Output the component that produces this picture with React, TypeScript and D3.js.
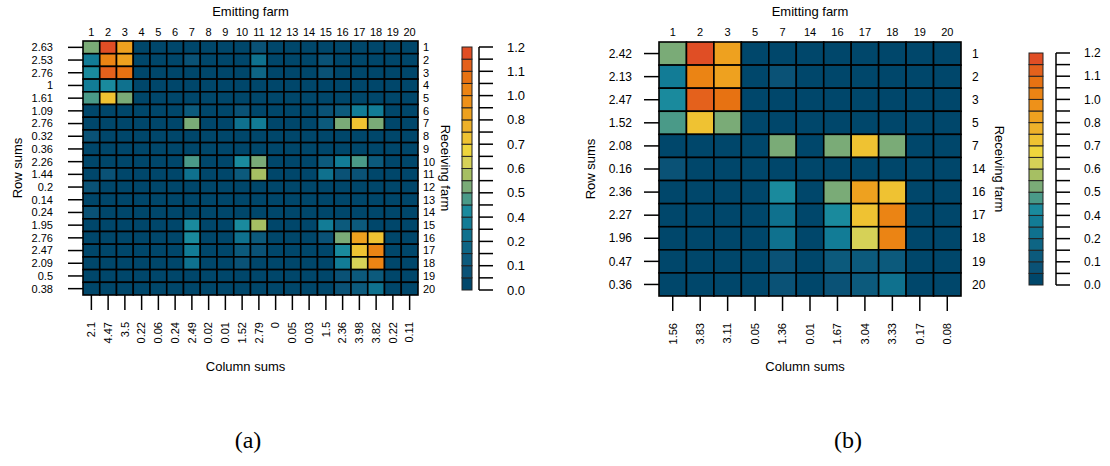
import React from 'react';
import * as d3 from 'd3';

// farm ids, row sums and column sums for panel (a)
const farmsA = ['1', '2', '3', '4', '5', '6', '7', '8', '9', '10', '11', '12', '13', '14', '15', '16', '17', '18', '19', '20'];
const rowSumsA = ['2.63', '2.53', '2.76', '1', '1.61', '1.09', '2.76', '0.32', '0.36', '2.26', '1.44', '0.2', '0.14', '0.24', '1.95', '2.76', '2.47', '2.09', '0.5', '0.38'];
const colSumsA = ['2.1', '4.47', '3.5', '0.22', '0.06', '0.24', '2.49', '0.02', '0.01', '1.52', '2.79', '0', '0.05', '0.03', '1.5', '2.36', '3.98', '3.82', '0.22', '0.11'];

// rows = receiving farm, cols = emitting farm
const valuesA = [
  [0.52, 1.17, 0.85, 0, 0, 0, 0, 0, 0, 0, 0.08, 0, 0, 0, 0, 0, 0, 0, 0, 0],
  [0.35, 1.02, 0.85, 0, 0, 0, 0.08, 0, 0, 0, 0.22, 0, 0, 0, 0.08, 0, 0, 0, 0, 0],
  [0.42, 1.12, 1.07, 0, 0, 0, 0, 0, 0, 0, 0.18, 0, 0, 0, 0.08, 0, 0, 0, 0, 0],
  [0.35, 0.42, 0.25, 0, 0, 0, 0, 0, 0, 0, 0, 0, 0, 0, 0, 0, 0, 0, 0, 0],
  [0.47, 0.72, 0.52, 0, 0, 0, 0, 0, 0, 0, 0, 0, 0, 0, 0, 0, 0, 0, 0, 0],
  [0, 0, 0, 0, 0, 0, 0.13, 0, 0, 0.08, 0, 0, 0, 0, 0.08, 0.13, 0.35, 0.35, 0, 0],
  [0, 0, 0, 0, 0, 0, 0.52, 0, 0, 0.25, 0.35, 0, 0, 0, 0.13, 0.52, 0.72, 0.52, 0, 0],
  [0.08, 0, 0, 0, 0, 0, 0, 0, 0, 0, 0, 0, 0, 0, 0, 0, 0, 0, 0, 0],
  [0, 0, 0, 0, 0, 0, 0, 0, 0, 0, 0, 0, 0, 0, 0, 0, 0, 0, 0, 0],
  [0, 0, 0, 0, 0, 0, 0.47, 0, 0, 0.42, 0.52, 0, 0, 0, 0.13, 0.35, 0.47, 0.13, 0, 0],
  [0, 0.08, 0, 0, 0, 0, 0.25, 0, 0, 0.13, 0.57, 0, 0, 0, 0.25, 0.08, 0.08, 0, 0, 0],
  [0.08, 0, 0, 0, 0, 0, 0, 0, 0, 0, 0, 0, 0, 0, 0, 0, 0, 0, 0, 0],
  [0, 0, 0, 0, 0, 0, 0, 0, 0, 0, 0, 0, 0, 0, 0, 0, 0, 0, 0, 0],
  [0.08, 0, 0, 0, 0, 0, 0, 0, 0, 0, 0, 0, 0, 0, 0, 0, 0, 0, 0, 0],
  [0, 0, 0, 0, 0, 0, 0.42, 0, 0, 0.42, 0.57, 0, 0, 0, 0.35, 0.13, 0.13, 0, 0, 0],
  [0, 0, 0, 0, 0, 0, 0.42, 0, 0, 0.25, 0.13, 0, 0, 0, 0.08, 0.52, 0.85, 0.72, 0, 0],
  [0, 0, 0, 0, 0, 0, 0.35, 0, 0, 0.13, 0.08, 0, 0, 0, 0, 0.42, 0.72, 1.02, 0, 0],
  [0, 0, 0, 0, 0, 0, 0.25, 0, 0, 0.08, 0, 0, 0, 0, 0, 0.35, 0.62, 1.02, 0, 0],
  [0, 0, 0, 0, 0, 0, 0, 0, 0, 0, 0, 0, 0, 0, 0, 0.08, 0.13, 0.13, 0, 0],
  [0, 0, 0, 0, 0, 0, 0, 0, 0, 0, 0, 0, 0, 0, 0, 0.08, 0.13, 0.25, 0, 0],
];

// panel (b)
const farmsB = ['1', '2', '3', '5', '7', '14', '16', '17', '18', '19', '20'];
const rowSumsB = ['2.42', '2.13', '2.47', '1.52', '2.08', '0.16', '2.36', '2.27', '1.96', '0.47', '0.36'];
const colSumsB = ['1.56', '3.83', '3.11', '0.05', '1.36', '0.01', '1.67', '3.04', '3.33', '0.17', '0.08'];

const valuesB = [
  [0.52, 1.17, 0.85, 0, 0, 0, 0, 0, 0, 0, 0],
  [0.35, 1.02, 0.85, 0, 0.08, 0, 0, 0, 0, 0, 0],
  [0.42, 1.12, 1.07, 0, 0, 0, 0, 0, 0, 0, 0],
  [0.47, 0.72, 0.52, 0, 0, 0, 0, 0, 0, 0, 0],
  [0, 0, 0, 0, 0.52, 0, 0.52, 0.72, 0.52, 0, 0],
  [0.08, 0, 0, 0, 0, 0, 0, 0, 0, 0, 0],
  [0, 0, 0, 0, 0.42, 0, 0.52, 0.85, 0.72, 0, 0],
  [0, 0, 0, 0, 0.25, 0, 0.42, 0.72, 1.02, 0, 0],
  [0, 0, 0, 0, 0.25, 0, 0.35, 0.62, 1.02, 0, 0],
  [0, 0, 0, 0, 0.08, 0, 0.13, 0.13, 0.13, 0, 0],
  [0, 0, 0, 0, 0.08, 0, 0.08, 0.13, 0.25, 0, 0],
];

// colour key
const breaks = [0, 0.05, 0.1, 0.15, 0.2, 0.3, 0.4, 0.45, 0.5, 0.55, 0.6, 0.65, 0.7, 0.75, 0.8, 0.9, 1.0, 1.05, 1.1, 1.15, 1.2];
const breakLabels = ['0.0', '', '0.1', '', '0.2', '', '0.4', '', '0.5', '', '0.6', '', '0.7', '', '0.8', '', '1.0', '', '1.1', '', '1.2'];
const palette = [
  '#00476b', '#0a5276', '#0c5a7c', '#0e6584', '#0f718e', '#127c96', '#1a8a9d', '#4a9a88', '#7aab77', '#a6bf63',
  '#d6d157', '#eed53c', '#efc232', '#eeb12a', '#eea11f', '#ee9119', '#eb8414', '#e77212', '#e4611c', '#e04e25',
];

const font = '"Liberation Sans", Arial, sans-serif';

type PanelProps = {
  farms: string[];
  rowSums: string[];
  colSums: string[];
  values: number[][];
  box: { x0: number; x1: number; y0: number; y1: number };
  rowLabelX: number;
  rightLabelX: number;
  rowTitleX: number;
  rightTitleX: number;
  legend: { x: number; w: number; y0: number; y1: number; axisX: number; fs: number };
  labelFs: number;
  caption: string;
  captionX: number;
};

function Panel(p: PanelProps) {
  const { x0, x1, y0, y1 } = p.box;
  const x = d3.scaleBand().domain(p.farms).range([x0, x1]);
  const y = d3.scaleBand().domain(p.farms).range([y0, y1]);
  const color = d3.scaleThreshold<number, string>().domain(breaks.slice(1, -1)).range(palette);
  const cx = (x0 + x1) / 2;
  const cy = (y0 + y1) / 2;

  const lg = p.legend;
  const ly = d3.scaleLinear().domain([0, breaks.length - 1]).range([lg.y1, lg.y0]);

  return (
    <g fontFamily={font} fill="#000">
      <text x={cx} y={11} fontSize={13} textAnchor="middle" dy="0.35em">Emitting farm</text>
      {p.farms.map(f => (
        <text key={'t' + f} x={x(f)! + x.bandwidth() / 2} y={36} fontSize={11} textAnchor="middle">{f}</text>
      ))}

      {p.values.map((row, i) =>
        row.map((v, j) => (
          <rect key={i + '-' + j} x={x(p.farms[j])} y={y(p.farms[i])} width={x.bandwidth()} height={y.bandwidth()}
            fill={color(v)} stroke="#000" strokeWidth={1.6} />
        ))
      )}

      {/* row sums, left */}
      {p.rowSums.map((s, i) => {
        const yy = y(p.farms[i])! + y.bandwidth() / 2;
        return (
          <g key={'r' + i}>
            <line x1={x0 - 15} x2={x0} y1={yy} y2={yy} stroke="#000" strokeWidth={1.5} />
            <text x={p.rowLabelX} y={yy} dy="0.35em" fontSize={p.labelFs} textAnchor="end">{s}</text>
          </g>
        );
      })}
      <text transform={`translate(${p.rowTitleX},${cy}) rotate(-90)`} fontSize={13} textAnchor="middle" dy="0.35em">Row sums</text>

      {/* receiving farm ids, right */}
      {p.farms.map(f => (
        <text key={'rf' + f} x={p.rightLabelX} y={y(f)! + y.bandwidth() / 2} dy="0.35em" fontSize={p.labelFs}>{f}</text>
      ))}
      <text transform={`translate(${p.rightTitleX},${cy}) rotate(90)`} fontSize={13} textAnchor="middle" dy="0.35em">Receiving farm</text>

      {/* column sums, bottom */}
      {p.colSums.map((s, j) => {
        const xx = x(p.farms[j])! + x.bandwidth() / 2;
        return (
          <g key={'c' + j}>
            <line x1={xx} x2={xx} y1={y1} y2={y1 + 15} stroke="#000" strokeWidth={1.5} />
            <text transform={`translate(${xx},${y1 + 27}) rotate(-90)`} dy="0.35em" fontSize={11} textAnchor="end">{s}</text>
          </g>
        );
      })}
      <text x={cx - 5} y={366} dy="0.35em" fontSize={13} textAnchor="middle">Column sums</text>

      {/* colour key */}
      {palette.map((c, i) => (
        <rect key={'k' + i} x={lg.x} y={ly(i + 1)} width={lg.w} height={ly(i) - ly(i + 1)} fill={c} stroke="#222" strokeWidth={1} />
      ))}
      <line x1={lg.axisX} x2={lg.axisX} y1={lg.y0} y2={lg.y1} stroke="#000" strokeWidth={1.5} />
      {breaks.map((b, k) => (
        <g key={'b' + k}>
          <line x1={lg.axisX} x2={lg.axisX + 14} y1={ly(k)} y2={ly(k)} stroke="#000" strokeWidth={1.5} />
          {breakLabels[k] && (
            <text x={lg.axisX + 28} y={ly(k)} dy="0.35em" fontSize={lg.fs}>{breakLabels[k]}</text>
          )}
        </g>
      ))}

      <text x={p.captionX} y={440} dy="0.35em" fontSize={24} textAnchor="middle"
        fontFamily='"Liberation Serif", "DejaVu Serif", serif'>{p.caption}</text>
    </g>
  );
}

export default function App() {
  return (
    <svg width={1110} height={466} style={{ position: 'absolute', left: 0, top: 0, background: '#fff' }}>
      <Panel farms={farmsA} rowSums={rowSumsA} colSums={colSumsA} values={valuesA}
        box={{ x0: 83, x1: 418, y0: 41, y1: 295 }}
        rowLabelX={53} rightLabelX={423} rowTitleX={17} rightTitleX={446}
        legend={{ x: 462, w: 10, y0: 47, y1: 290, axisX: 479, fs: 13 }}
        labelFs={11} caption="(a)" captionX={248} />
      <Panel farms={farmsB} rowSums={rowSumsB} colSums={colSumsB} values={valuesB}
        box={{ x0: 659, x1: 961, y0: 42, y1: 296 }}
        rowLabelX={632} rightLabelX={972} rowTitleX={590} rightTitleX={1000}
        legend={{ x: 1029, w: 14, y0: 53, y1: 285, axisX: 1056, fs: 12 }}
        labelFs={12} caption="(b)" captionX={848} />
    </svg>
  );
}
